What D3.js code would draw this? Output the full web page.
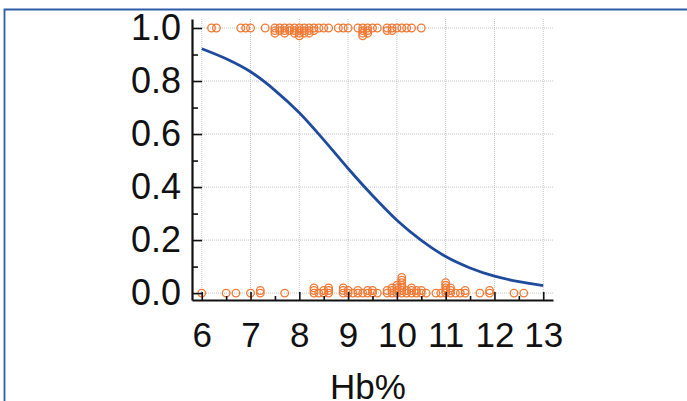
<!DOCTYPE html>
<html>
<head>
<meta charset="utf-8">
<script src="https://cdn.jsdelivr.net/npm/d3@7/dist/d3.min.js"></script>
<style>
  html, body { margin: 0; padding: 0; background: #fff; }
  svg { display: block; }
  text { font-family: "Liberation Sans", Arial, sans-serif; fill: #111; }
</style>
</head>
<body>
<svg id="chart" width="687" height="401"></svg>
<script>
// Hb% of cases with outcome = 1 (ties repeated)
const hbEvents = [
  6.2, 6.3, 6.8, 6.9, 7.0, 7.3,
  7.5, 7.5, 7.5, 7.6, 7.6, 7.7, 7.7, 7.7, 7.8, 7.8,
  7.9, 7.9, 7.9, 8.0, 8.0, 8.0, 8.0, 8.1, 8.1, 8.1,
  8.2, 8.2, 8.2, 8.3, 8.3, 8.4, 8.5, 8.6,
  8.8, 8.9, 9.0, 9.2, 9.3, 9.3, 9.3, 9.3, 9.4, 9.4, 9.4,
  9.5, 9.6, 9.8, 9.8, 9.9, 9.9, 10.0, 10.1, 10.2, 10.3, 10.5
];
// Hb% of cases with outcome = 0 (ties repeated)
const hbNonEvents = [
  6.0, 6.5, 6.7, 7.0, 7.2, 7.2, 7.7,
  8.3, 8.3, 8.3, 8.4, 8.5, 8.5, 8.6, 8.6, 8.6,
  8.9, 8.9, 8.9, 9.0, 9.0, 9.1, 9.2, 9.2, 9.3,
  9.4, 9.4, 9.5, 9.5, 9.6, 9.8, 9.8, 9.9, 9.9, 9.9,
  10.0, 10.0, 10.0, 10.0, 10.1, 10.1, 10.1, 10.1, 10.1, 10.1, 10.1,
  10.2, 10.2, 10.3, 10.3, 10.3, 10.4, 10.4, 10.5, 10.5, 10.6,
  10.8, 10.9, 11.0, 11.0, 11.0, 11.0, 11.0, 11.1, 11.1, 11.1,
  11.2, 11.3, 11.4, 11.4, 11.7, 11.9, 11.9, 12.4, 12.6
];
// Fitted probability curve
const curveHb   = [6, 6.5, 7, 7.5, 8, 8.5, 9, 9.5, 10, 10.5, 11, 11.5, 12, 12.5, 13];
const curveProb = [0.922, 0.884, 0.835, 0.765, 0.68, 0.578, 0.47, 0.368, 0.275, 0.199, 0.138, 0.095, 0.064, 0.043, 0.028];

const xTicks = [6, 7, 8, 9, 10, 11, 12, 13];
const yTicks = [0, 0.2, 0.4, 0.6, 0.8, 1.0];
const xMinorTicks = [6.5, 7.5, 8.5, 9.5, 10.5, 11.5, 12.5];
const yMinorTicks = [0.1, 0.3, 0.5, 0.7, 0.9];
const xTitle = "Hb%";

const svg = d3.select("#chart");
const plotLeft = 192, plotRight = 553, plotTop = 19, plotBottom = 300;

const x = d3.scaleLinear().domain([5.8, 13.2]).range([plotLeft, plotRight]);
const y = d3.scaleLinear().domain([-0.026, 1.034]).range([plotBottom, plotTop]);

// page frame
svg.append("path")
  .attr("d", "M4.5,401 L4.5,9.5 L687,9.5")
  .attr("fill", "none").attr("stroke", "#2f5ca8").attr("stroke-width", 1.8);

// dotted grid
const grid = svg.append("g").attr("stroke", "#c4c4c4").attr("stroke-width", 1)
  .attr("stroke-dasharray", "1,1");
grid.selectAll("line.v").data(xTicks).join("line").attr("class", "v")
  .attr("x1", d => x(d)).attr("x2", d => x(d))
  .attr("y1", plotTop).attr("y2", plotBottom);
grid.selectAll("line.h").data(yTicks).join("line").attr("class", "h")
  .attr("x1", plotLeft).attr("x2", plotRight)
  .attr("y1", d => y(d)).attr("y2", d => y(d));

// data points: ties are stacked away from the 0/1 line
function stacked(values, dir) {
  const seen = new Map();
  return values.map(v => {
    const k = seen.get(v) || 0;
    seen.set(v, k + 1);
    return { v, k, dir };
  });
}
const pts = stacked(hbEvents, 1).map(p => ({ ...p, o: 1 }))
  .concat(stacked(hbNonEvents, -1).map(p => ({ ...p, o: 0 })));
svg.append("g").selectAll("circle").data(pts).join("circle")
  .attr("cx", d => x(d.v))
  .attr("cy", d => y(d.o) + d.dir * d.k * 2.6)
  .attr("r", 3.8)
  .attr("fill", "none")
  .attr("stroke", "#f07a35").attr("stroke-width", 1.3);

// fitted curve
const line = d3.line().x(d => x(d[0])).y(d => y(d[1])).curve(d3.curveMonotoneX);
svg.append("path")
  .datum(curveHb.map((h, i) => [h, curveProb[i]]))
  .attr("d", line)
  .attr("fill", "none").attr("stroke", "#1f4b9c").attr("stroke-width", 2.8);

// axes with inward ticks
const yAxisG = svg.append("g").attr("transform", `translate(${plotLeft},0)`)
  .call(d3.axisLeft(y).tickValues(yTicks).tickFormat(d3.format(".1f"))
    .tickSizeInner(-10).tickSizeOuter(0).tickPadding(11));
const xAxisG = svg.append("g").attr("transform", `translate(0,${plotBottom})`)
  .call(d3.axisBottom(x).tickValues(xTicks).tickFormat(d3.format("d"))
    .tickSizeInner(-8).tickSizeOuter(0).tickPadding(22));
svg.append("g").attr("transform", `translate(${plotLeft},0)`)
  .call(d3.axisLeft(y).tickValues(yMinorTicks).tickFormat("")
    .tickSizeInner(-6).tickSizeOuter(0))
  .select(".domain").remove();
svg.append("g").attr("transform", `translate(0,${plotBottom})`)
  .call(d3.axisBottom(x).tickValues(xMinorTicks).tickFormat("")
    .tickSizeInner(-4).tickSizeOuter(0))
  .select(".domain").remove();

svg.selectAll(".domain").attr("stroke", "#111").attr("stroke-width", 2.2);
svg.selectAll(".tick line").attr("stroke", "#111").attr("stroke-width", 1.6);
svg.selectAll(".tick text").attr("fill", "#111")
  .attr("font-family", "'Liberation Sans', Arial, sans-serif");
yAxisG.selectAll(".tick text").attr("font-size", 36);
xAxisG.selectAll(".tick text").attr("font-size", 35);

// axis title
svg.append("text")
  .attr("x", 368).attr("y", 399)
  .attr("text-anchor", "middle")
  .attr("font-size", 35)
  .text(xTitle);
</script>
</body>
</html>
